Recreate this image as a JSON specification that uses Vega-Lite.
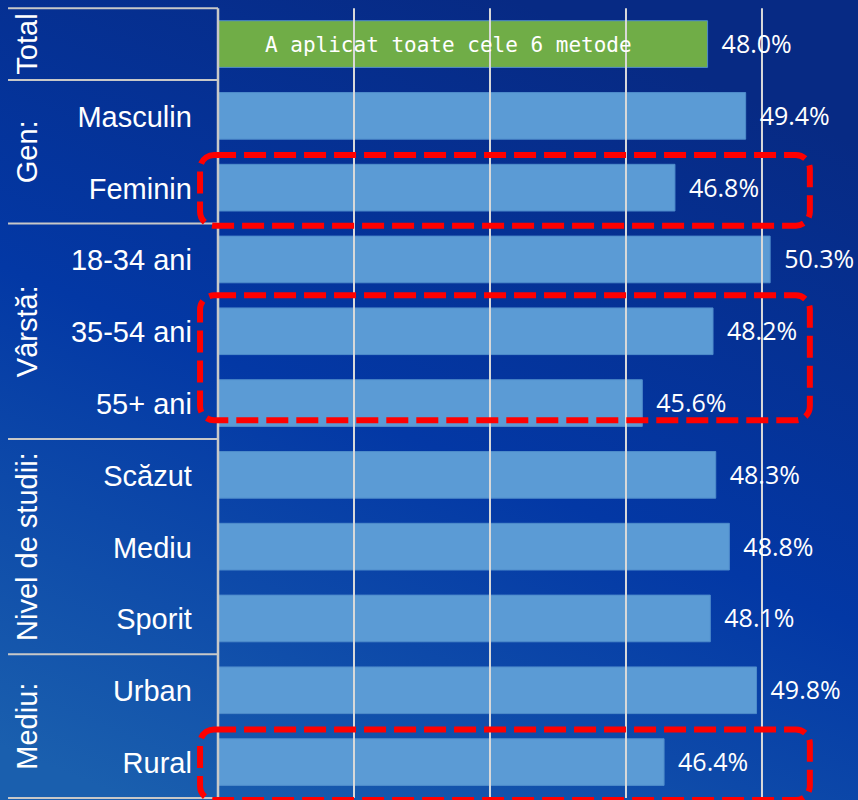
{
  "$schema": "https://vega.github.io/schema/vega-lite/v6.json",
  "width": 858,
  "height": 800,
  "padding": 0,
  "autosize": "none",
  "background": "#0535a0",
  "view": {"stroke": null},
  "datasets": {
    "rows": [
      {"cat": "Total", "value": 48.0, "label": "48.0%"},
      {"cat": "Masculin", "value": 49.4, "label": "49.4%"},
      {"cat": "Feminin", "value": 46.8, "label": "46.8%"},
      {"cat": "18-34 ani", "value": 50.3, "label": "50.3%"},
      {"cat": "35-54 ani", "value": 48.2, "label": "48.2%"},
      {"cat": "55+ ani", "value": 45.6, "label": "45.6%"},
      {"cat": "Scăzut", "value": 48.3, "label": "48.3%"},
      {"cat": "Mediu", "value": 48.8, "label": "48.8%"},
      {"cat": "Sporit", "value": 48.1, "label": "48.1%"},
      {"cat": "Urban", "value": 49.8, "label": "49.8%"},
      {"cat": "Rural", "value": 46.4, "label": "46.4%"}
    ]
  },
  "layer": [
    {
      "data": {"values": [{}]},
      "mark": {
        "type": "rect",
        "fill": {
          "gradient": "linear", "x1": 0.6, "y1": 0, "x2": 0.15, "y2": 1,
          "stops": [
            {"offset": 0, "color": "#072a84"},
            {"offset": 0.5, "color": "#0338a5"},
            {"offset": 1, "color": "#1a5fae"}
          ]
        }
      },
      "encoding": {}
    },
    {
      "data": {"name": "rows"},
      "mark": {"type": "bar", "height": {"band": 0.65}, "stroke": "#4f8ccb", "strokeWidth": 1},
      "encoding": {
        "y": {
          "field": "cat", "type": "nominal", "axis": null,
          "scale": {
            "domain": ["Total", "Masculin", "Feminin", "18-34 ani", "35-54 ani", "55+ ani", "Scăzut", "Mediu", "Sporit", "Urban", "Rural"],
            "paddingInner": 0, "paddingOuter": 0.071, "align": 0.8
          }
        },
        "x": {
          "field": "value", "type": "quantitative", "axis": null,
          "scale": {"domain": [21.985, 53.53], "nice": false, "zero": false}
        },
        "x2": {"datum": 30},
        "color": {
          "condition": {"test": "datum.cat === 'Total'", "value": "#70ad47"},
          "value": "#5b9bd5"
        }
      }
    },
    {
      "data": {"values": [{"v": 35}, {"v": 40}, {"v": 45}, {"v": 50}]},
      "mark": {"type": "rule", "color": "#d9d9d9", "strokeWidth": 2},
      "encoding": {
        "x": {"field": "v", "type": "quantitative"},
        "y": {"datum": "Total", "bandPosition": 0},
        "y2": {"datum": "Rural", "bandPosition": 1}
      }
    },
    {
      "data": {"values": [{"v": 30}]},
      "mark": {"type": "rule", "color": "#c8c8c8", "strokeWidth": 2.5},
      "encoding": {
        "x": {"field": "v", "type": "quantitative"},
        "y": {"datum": "Total", "bandPosition": 0},
        "y2": {"datum": "Rural", "bandPosition": 1}
      }
    },
    {
      "data": {"values": [{"cat": "Total"}, {"cat": "Masculin"}, {"cat": "18-34 ani"}, {"cat": "Scăzut"}, {"cat": "Urban"}]},
      "mark": {"type": "rule", "color": "#c8c8c8", "strokeWidth": 2},
      "encoding": {
        "y": {"field": "cat", "type": "nominal", "bandPosition": 0},
        "x": {"datum": 22.28},
        "x2": {"datum": 30}
      }
    },
    {
      "data": {"values": [{"cat": "Rural"}]},
      "mark": {"type": "rule", "color": "#c8c8c8", "strokeWidth": 2},
      "encoding": {
        "y": {"field": "cat", "type": "nominal", "bandPosition": 1},
        "x": {"datum": 22.28},
        "x2": {"datum": 30}
      }
    },
    {
      "data": {"name": "rows"},
      "transform": [{"filter": "datum.cat !== 'Total'"}],
      "mark": {"type": "text", "align": "right", "baseline": "middle", "dy": 2, "font": "Liberation Sans", "fontSize": 29, "color": "#ffffff"},
      "encoding": {
        "y": {"field": "cat", "type": "nominal"},
        "x": {"datum": 29.04},
        "text": {"field": "cat"}
      }
    },
    {
      "data": {"name": "rows"},
      "mark": {"type": "text", "align": "left", "baseline": "middle", "dx": 14, "dy": 1, "font": "Open Sans", "fontSize": 25, "color": "#ffffff"},
      "encoding": {
        "y": {"field": "cat", "type": "nominal"},
        "x": {"field": "value", "type": "quantitative"},
        "text": {"field": "label"}
      }
    },
    {
      "data": {"name": "rows"},
      "transform": [{"filter": "datum.cat === 'Total'"}],
      "mark": {"type": "text", "align": "left", "baseline": "middle", "dx": 47, "dy": 2, "font": "DejaVu Sans Mono", "fontSize": 21, "color": "#ffffff"},
      "encoding": {
        "y": {"field": "cat", "type": "nominal"},
        "x": {"datum": 30},
        "text": {"value": "A aplicat toate cele 6 metode"}
      }
    },
    {
      "data": {"values": [{"label": "Total", "cat": "Total"}, {"label": "Vârstă:", "cat": "35-54 ani"}, {"label": "Nivel de studii:", "cat": "Mediu"}]},
      "mark": {"type": "text", "angle": 270, "align": "center", "baseline": "alphabetic", "font": "Liberation Sans", "fontSize": 29, "color": "#ffffff"},
      "encoding": {
        "y": {"field": "cat", "type": "nominal", "bandPosition": 0.5},
        "x": {"datum": 23.345},
        "text": {"field": "label"}
      }
    },
    {
      "data": {"values": [{"label": "Gen:", "cat": "Feminin"}, {"label": "Mediu:", "cat": "Rural"}]},
      "mark": {"type": "text", "angle": 270, "align": "center", "baseline": "alphabetic", "font": "Liberation Sans", "fontSize": 29, "color": "#ffffff"},
      "encoding": {
        "y": {"field": "cat", "type": "nominal", "bandPosition": 0},
        "x": {"datum": 23.345},
        "text": {"field": "label"}
      }
    },
    {
      "data": {"values": [{"from": "Feminin", "to": "Feminin"}, {"from": "Rural", "to": "Rural"}]},
      "mark": {"type": "rect", "filled": false, "stroke": "#ff0000", "strokeWidth": 6, "strokeDash": [22, 8], "cornerRadius": 14},
      "encoding": {
        "y": {"field": "from", "type": "nominal", "bandPosition": 0.045},
        "y2": {"field": "to", "bandPosition": 1.03},
        "x": {"datum": 29.34},
        "x2": {"datum": 51.76}
      }
    },
    {
      "data": {"values": [{"from": "35-54 ani", "to": "55+ ani"}]},
      "mark": {"type": "rect", "filled": false, "stroke": "#ff0000", "strokeWidth": 6, "strokeDash": [22, 8], "cornerRadius": 14},
      "encoding": {
        "y": {"field": "from", "type": "nominal", "bandPosition": 0},
        "y2": {"field": "to", "bandPosition": 0.74},
        "x": {"datum": 29.34},
        "x2": {"datum": 51.76}
      }
    }
  ]
}
